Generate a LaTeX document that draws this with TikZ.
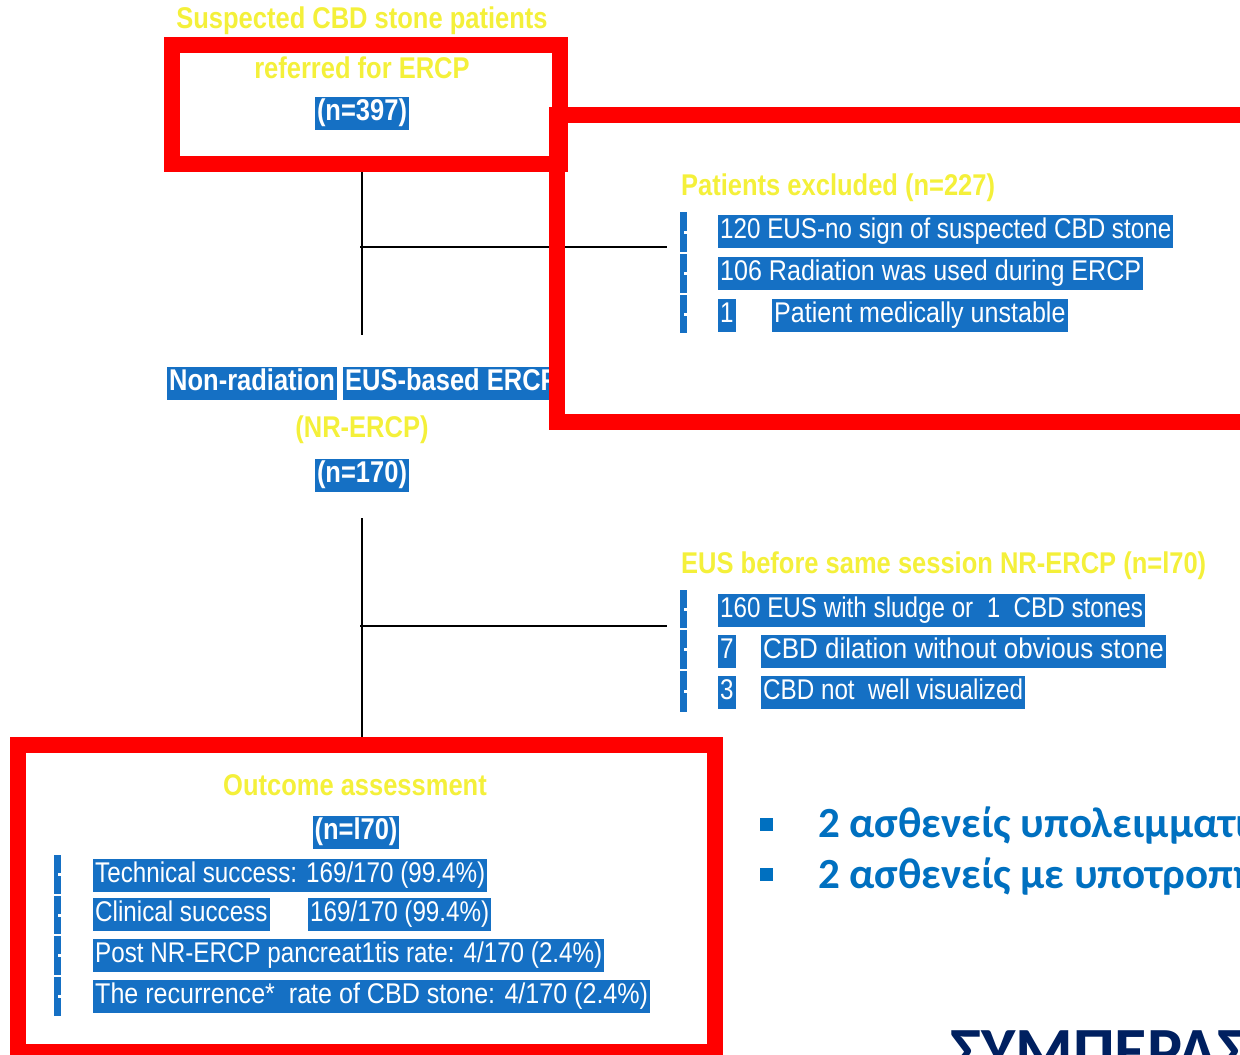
\documentclass[tikz,border=0pt]{standalone}
\usepackage{fontspec}
\setmainfont{Liberation Sans}
\newfontfamily\nar[FakeStretch=0.85]{Liberation Sans}
\newfontfamily\narw[FakeStretch=0.88]{Liberation Sans}
\newfontfamily\narww[FakeStretch=0.91]{Liberation Sans}
\newfontfamily\grk{Carlito}
\definecolor{hlblue}{HTML}{1570C4}
\definecolor{ylw}{HTML}{F4F03A}
\definecolor{redb}{HTML}{FF0000}
\definecolor{grkblue}{HTML}{0070C0}
\definecolor{navy}{HTML}{002060}
\begin{document}
\begin{tikzpicture}[x=1pt,y=-1pt,
  hl/.style={fill=hlblue, text=white, font=\nar\fontsize{28.5}{30}\selectfont,
    inner xsep=2pt, inner ysep=3pt, text height=21pt, text depth=6pt, anchor=west},
  hlw/.style={hl, font=\narw\fontsize{28.5}{30}\selectfont},
  hlww/.style={hl, font=\narww\fontsize{28.5}{30}\selectfont},
  hlb/.style={hl, font=\nar\bfseries\fontsize{30}{32}\selectfont, anchor=center},
  ytxt/.style={text=ylw, font=\nar\bfseries\fontsize{30}{32}\selectfont, inner sep=0pt},
  redbox/.style={draw=redb, line width=16pt},
  conn/.style={draw=black, line width=1.5pt},
  barseg/.style={fill=hlblue},
  grktxt/.style={text=grkblue, font=\grk\bfseries\fontsize{43}{45}\selectfont, inner sep=0pt, anchor=base west},
  bullet/.style={fill=grkblue},
]
\useasboundingbox (0,0) rectangle (1240,1055);
\clip (0,0) rectangle (1240,1055);

% --- top block
\node[ytxt] (t1) at (362,21) {Suspected CBD stone patients};
\node[ytxt] (t2) at (362,68) {referred for ERCP};
\node[hlb] (n397) at (362,113) {(n=397)};

% --- connectors
\coordinate (v1a) at (362,170);
\coordinate (v1b) at (362,335);
\coordinate (h1a) at (360,247);
\coordinate (h1b) at (667,247);
\coordinate (v2a) at (362,518);
\coordinate (v2b) at (362,745);
\coordinate (h2a) at (360,626);
\coordinate (h2b) at (667,626);
\draw[conn] (v1a) -- (v1b);
\draw[conn] (h1a) -- (h1b);
\draw[conn] (v2a) -- (v2b);
\draw[conn] (h2a) -- (h2b);

% --- excluded
\node[ytxt, anchor=west] (exh) at (681,188) {Patients excluded (n=227)};
\node[hl] (e1) at (718,231) {120 EUS-no sign of suspected CBD stone};
\node[hlw] (e2) at (718,273) {106 Radiation was used during ERCP};
\node[hl] (e3a) at (718,315) {1};
\node[hlw] (e3b) at (772,315) {Patient medically unstable};

% --- NR-ERCP
\node[hlb, anchor=west] (nr1) at (167,383) {Non-radiation};
\node[hlb, anchor=west] (nr2) at (343,383) {EUS-based ERCP};
\node[ytxt] (nr3) at (362,430) {(NR-ERCP)};
\node[hlb] (n170) at (362,475) {(n=170)};

% --- EUS before
\node[ytxt, anchor=west] (eush) at (681,566) {EUS before same session NR-ERCP (n=l70)};
\node[hl] (u1) at (718,610) {160 EUS with sludge or\ \ 1\ \ CBD stones};
\node[hl] (u2a) at (718,651) {7};
\node[hlww] (u2b) at (761,651) {CBD dilation without obvious stone};
\node[hl] (u3a) at (718,692) {3};
\node[hl] (u3b) at (761,692) {CBD not\ \ well visualized};

% --- outcome
\node[ytxt] (oa) at (355,785) {Outcome assessment};
\node[hlb] (n170b) at (356,832) {(n=l70)};
\node[hl] (o1) at (93,875) {Technical success: 169/170 (99.4\%)};
\node[hl] (o2a) at (93,914) {Clinical success};
\node[hl] (o2b) at (308,914) {169/170 (99.4\%)};
\node[hl] (o3) at (93,955) {Post NR-ERCP pancreat1tis rate: 4/170 (2.4\%)};
\node[hlw] (o4) at (93,996) {The recurrence*\ \ rate of CBD stone: 4/170 (2.4\%)};

% --- list bars
\foreach \xa/\ya/\yb in {680/212/252, 680/254/293, 680/295/333,
                         680/590/628, 680/630/669, 680/671/712,
                         54/855/894, 54/896/934, 54/936/975, 54/977/1016}{
  \fill[barseg] (\xa,\ya) rectangle ({\xa+7},\yb);
  \fill[white] ({\xa+4},{(\ya+\yb)/2-1.5}) rectangle ({\xa+7},{(\ya+\yb)/2+1.5});
}

% --- greek text
\fill[bullet] (760,818) rectangle (773,831);
\fill[bullet] (760,868) rectangle (773,881);
\node[grktxt] (g1) at (818,837) {2 ασθενείς υπολειμματική};
\node[grktxt] (g2) at (818,888) {2 ασθενείς με υποτροπή};
\node[text=navy, font=\grk\bfseries\fontsize{66}{66}\selectfont, inner sep=0pt, anchor=base west] (sym) at (950,1073) {ΣΥΜΠΕΡΑΣΜΑΤΑ};

% --- red frames
\draw[redbox] (172,45) rectangle (560,163.5);
\draw[redbox] (1270,114.5) -- (557,114.5) -- (557,421.5) -- (1270,421.5);
\draw[redbox] (18,745) rectangle (715,1052);
\end{tikzpicture}
\end{document}
